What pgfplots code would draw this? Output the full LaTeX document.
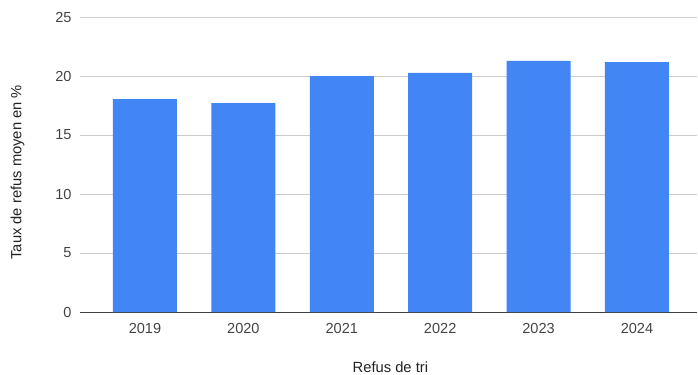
\documentclass[border=0pt]{standalone}
\usepackage{pgfplots}
\pgfplotsset{compat=1.18}
\usepackage{fontspec}
\setmainfont{Liberation Sans}
\definecolor{barblue}{HTML}{4285F4}
\definecolor{gridgray}{HTML}{CCCCCC}
\definecolor{ticktext}{HTML}{444444}
\definecolor{axtext}{HTML}{222222}
\begin{document}
\begin{tikzpicture}[x=1bp,y=1bp]
\useasboundingbox[fill=white] (-80,-62) rectangle (618,312);
\begin{axis}[
  at={(0,0)}, anchor=south west,
  scale only axis, width=617bp, height=295bp,
  ymin=0, ymax=25, ytick={0,5,...,25},
  xmin=-0.66, xmax=5.61,
  xtick={0,1,2,3,4,5},
  xticklabels={2019,2020,2021,2022,2023,2024},
  ybar, bar width=64bp, bar shift=0pt,
  ymajorgrids, grid style={gridgray, line width=0.8pt},
  axis x line*=bottom, axis y line*=left,
  y axis line style={draw=none},
  x axis line style={color=black!75, line width=0.9pt, -},
  major tick length=0pt,
  tick style={draw=none},
  /pgf/number format/assume math mode=true,
  ticklabel style={font=\fontsize{14.6}{16}\selectfont, color=ticktext},
  yticklabel style={xshift=-5bp},
  xticklabel style={yshift=-8bp},
  ylabel={Taux de refus moyen en \%},
  xlabel={Refus de tri},
  label style={font=\fontsize{14.8}{16}\selectfont, color=axtext},
  ylabel style={at={(axis description cs:-0.1013,0.474)}, anchor=center},
  xlabel style={at={(axis description cs:0.503,0)}, anchor=center, yshift=-55bp},
  clip=false,
]
\addplot[fill=barblue, draw=none] coordinates {(0,18.03) (1,17.70) (2,19.98) (3,20.26) (4,21.28) (5,21.17)};
\end{axis}
\end{tikzpicture}
\end{document}
